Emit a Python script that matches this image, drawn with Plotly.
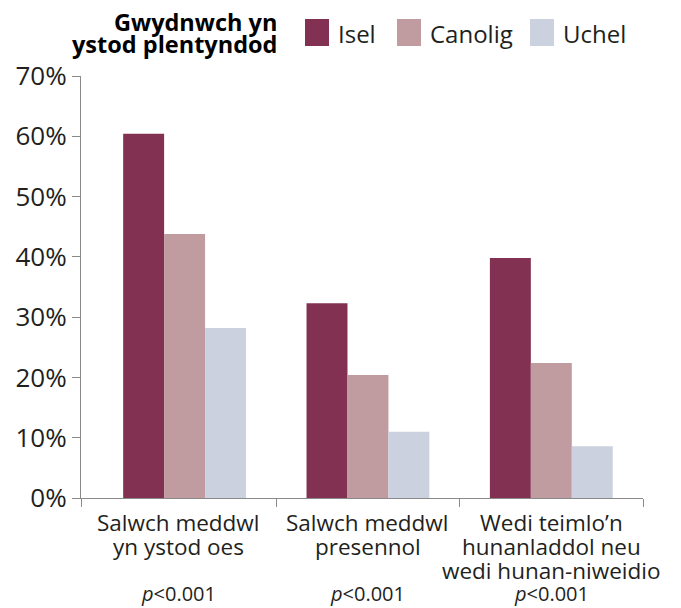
import plotly.graph_objects as go

# ---- data ----
categories = ["Salwch meddwl yn ystod oes", "Salwch meddwl presennol",
              "Wedi teimlo’n hunanladdol neu wedi hunan-niweidio"]
category_lines = [
    ["Salwch meddwl", "yn ystod oes", ""],
    ["Salwch meddwl", "presennol", ""],
    ["Wedi teimlo’n", "hunanladdol neu", "wedi hunan-niweidio"],
]
p_values = ["p<0.001", "p<0.001", "p<0.001"]
series_names = ["Isel", "Canolig", "Uchel"]
isel = [60.4, 32.3, 39.8]
canolig = [43.8, 20.4, 22.4]
uchel = [28.2, 11.0, 8.6]
series_values = [isel, canolig, uchel]
y_ticks = [0, 10, 20, 30, 40, 50, 60, 70]
legend_title_lines = ["Gwydnwch yn", "ystod plentyndod"]

# ---- style ----
colors = ["#823153", "#c09b9f", "#cbd1df"]
FONT = "Open Sans"
TEXT = "#231f20"
AXIS = "#8a8a8a"
OFF = 8  # page body margin offset
W, H = 681 - OFF, 608 - OFF
# plot area in window pixels: x 81..643, y 76..498
ML, MR, MT, MB = 81 - OFF, 681 - 643, 76 - OFF, 608 - 498
PW = W - ML - MR
PH = H - MT - MB
X_RANGE = [-0.565, 2.5]
boundaries = [X_RANGE[0], 0.5, 1.5, X_RANGE[1]]
label_x = [(boundaries[i] + boundaries[i + 1]) / 2 for i in range(len(categories))]

def px_to_paper_x(px):
    return (px - OFF - ML) / PW

def px_to_paper_y(py):
    return 1 + (MT - (py - OFF)) / PH

x_idx = list(range(len(categories)))

fig = go.Figure()
for name, vals, col in zip(series_names, series_values, colors):
    fig.add_trace(go.Bar(x=x_idx, y=vals, name=name, marker_color=col,
                         marker_line_width=0, showlegend=False,
                         hovertext=categories))

annotations = []
line_offsets = [-24.5, -48, -72]
for i, lines in enumerate(category_lines):
    for j, txt in enumerate(lines):
        if not txt:
            continue
        annotations.append(dict(x=label_x[i], y=0, xref="x", yref="y", text=txt,
                                showarrow=False, xanchor="center", yanchor="middle",
                                yshift=line_offsets[j],
                                font=dict(family=FONT, size=22.5, color=TEXT)))
    pv = p_values[i].replace("p", "<i>p</i>", 1)
    annotations.append(dict(x=label_x[i], y=0, xref="x", yref="y", text=pv,
                            showarrow=False, xanchor="center", yanchor="middle",
                            yshift=-95.5,
                            font=dict(family=FONT, size=20, color=TEXT)))

# legend title (two bold lines, right-aligned)
for txt, cy in zip(legend_title_lines, [21.5, 44]):
    annotations.append(dict(x=px_to_paper_x(279), y=px_to_paper_y(cy),
                            xref="paper", yref="paper",
                            text="<b>" + txt + "</b>", showarrow=False,
                            xanchor="right", yanchor="middle",
                            font=dict(family=FONT, size=23.5, color="#000000")))

# manual legend
swatch_x = [305, 397, 530]
shapes = []
for name, col, sx in zip(series_names, colors, swatch_x):
    shapes.append(dict(type="rect", xref="paper", yref="paper",
                       x0=px_to_paper_x(sx), x1=px_to_paper_x(sx + 24),
                       y0=px_to_paper_y(46), y1=px_to_paper_y(19),
                       fillcolor=col, line=dict(width=0)))
    annotations.append(dict(x=px_to_paper_x(sx + 31), y=px_to_paper_y(33),
                            xref="paper", yref="paper",
                            text=name, showarrow=False, xanchor="left",
                            yanchor="middle",
                            font=dict(family=FONT, size=24, color=TEXT)))

fig.update_layout(
    width=W, height=H,
    margin=dict(l=ML, r=MR, t=MT, b=MB, autoexpand=False),
    paper_bgcolor="white", plot_bgcolor="white",
    barmode="group", bargap=0.33, bargroupgap=0,
    font=dict(family=FONT, color=TEXT),
    annotations=annotations, shapes=shapes,
    showlegend=False,
)
fig.update_xaxes(
    range=X_RANGE, showgrid=False, zeroline=False,
    showline=True, linecolor=AXIS, linewidth=1.3,
    tickmode="array", tickvals=boundaries, ticktext=[""] * len(boundaries),
    ticks="outside", ticklen=8, tickcolor=AXIS, tickwidth=1.3,
)
fig.update_yaxes(
    range=[0, 70], showgrid=False, zeroline=False,
    showline=True, linecolor=AXIS, linewidth=1.3,
    tickmode="array", tickvals=y_ticks, ticktext=[f"{v}%" for v in y_ticks],
    ticks="outside", ticklen=8, tickcolor=AXIS, tickwidth=1.3,
    tickfont=dict(family=FONT, size=26, color=TEXT),
)

fig.write_html("out.html")
